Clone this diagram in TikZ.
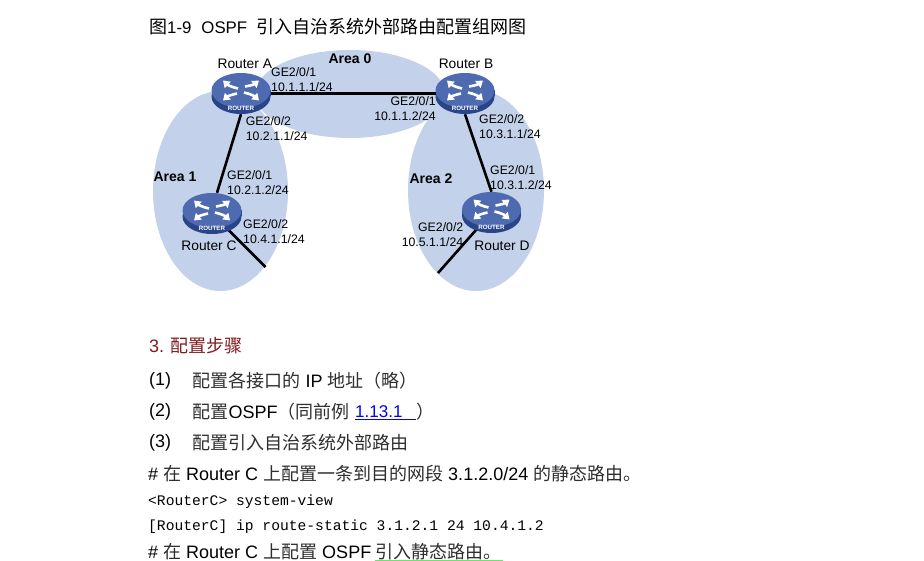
\documentclass[tikz,border=0pt]{standalone}
\usepackage{fontspec}
\setmainfont{Liberation Sans}
\setmonofont{Liberation Mono}
\newfontfamily\cjk{Noto Sans CJK SC}
\usetikzlibrary{arrows.meta}
\definecolor{areablue}{HTML}{C3D1EA}
\definecolor{routertop}{HTML}{4E6AB0}
\definecolor{routerside}{HTML}{2A4489}
\definecolor{headred}{HTML}{7F1A1F}
\definecolor{markgreen}{HTML}{66E866}
\newcommand{\zh}[1]{{\cjk\color{black!82}#1}}
\tikzset{
  routerbox/.style={minimum width=60pt,minimum height=41pt,inner sep=0pt},
  portlabel/.style={font=\fontsize{12.3}{14.8}\selectfont,inner sep=0pt},
  namelabel/.style={font=\fontsize{13.8}{15}\selectfont,inner sep=0pt},
  arealabel/.style={font=\fontsize{14}{15}\selectfont\bfseries,inner sep=0pt},
  bodyline/.style={anchor=west,inner sep=0pt,font=\fontsize{18}{20}\selectfont},
  lastline/.style={bodyline,text height=13pt,text depth=2pt},
  codeline/.style={anchor=west,inner sep=0pt,font=\fontsize{14.65}{18}\ttfamily},
  routerarrow/.style={white,line width=2.6pt,-{Triangle[length=6.5pt,width=8.5pt]}},
  routericon/.pic={
    \fill[routerside] (-29.5,-3) rectangle (29.5,3);
    \fill[routerside] (0,3) ellipse (29.5 and 17.5);
    \fill[routertop] (0,-3) ellipse (29.5 and 17.5);
    \draw[routerarrow] (-3,-5) to[bend left=15] (-18,-13);
    \draw[routerarrow] (4,-7) to[bend right=15] (18,-13);
    \draw[routerarrow] (-4,0) to[bend right=15] (-18,7);
    \draw[routerarrow] (3,-1) to[bend left=15] (18,7);
    \node[white,inner sep=0pt,font=\fontsize{6.2}{6}\selectfont\bfseries] at (0,14.5) {ROUTER};
  }
}
\begin{document}
\begin{tikzpicture}[x=1pt,y=-1pt]
\useasboundingbox (0,0) rectangle (924,561);
% Title
\node[anchor=west,inner sep=0pt,font=\fontsize{16.8}{18}\selectfont] (title) at (149,27) {{\cjk\fontsize{18}{20}\selectfont 图}1-9\hspace{10pt}OSPF\hspace{9.5pt}{\cjk\fontsize{18}{20}\selectfont 引入自治系统外部路由配置组网图}};
% Areas
\fill[areablue] (350,94) ellipse (95 and 44);
\fill[areablue] (220.5,191) ellipse (67.5 and 100);
\fill[areablue] (476,190.5) ellipse (68 and 100.5);
% Routers
\node[routerbox] (ra) at (241,93.5) {};
\node[routerbox] (rb) at (465,93.5) {};
\node[routerbox] (rc) at (212,213.5) {};
\node[routerbox] (rd) at (491.5,212.5) {};
\coordinate (cend) at (265.5,267);
\coordinate (dend) at (438,273);
\draw[line width=2.6pt] (ra.center)--(rb.center);
\draw[line width=2.6pt] (ra.south)--([xshift=5pt]rc.north);
\draw[line width=2.6pt] (rb.south)--(rd.north);
\draw[line width=2.6pt] (rc.center)--(cend);
\draw[line width=2.6pt] (rd.center)--(dend);
\foreach \r in {ra,rb,rc,rd} \pic at (\r) {routericon};
\node[namelabel] (namea) at (244.8,63.5) {Router A};
\node[namelabel] (nameb) at (466,64) {Router B};
\node[namelabel] (namec) at (209,245.5) {Router C};
\node[namelabel] (named) at (502,245.5) {Router D};
\node[arealabel] (area0) at (350,59) {Area 0};
\node[arealabel] (area1) at (175,177) {Area 1};
\node[arealabel] (area2) at (431,179) {Area 2};
% Ports
\node[portlabel,anchor=west,align=left] (porta1) at (271,80) {GE2/0/1\\10.1.1.1/24};
\node[portlabel,anchor=west,align=left] (porta2) at (245.7,129) {GE2/0/2\\10.2.1.1/24};
\node[portlabel,anchor=west,align=left] (portc1) at (227,183) {GE2/0/1\\10.2.1.2/24};
\node[portlabel,anchor=west,align=left] (portc2) at (243,232) {GE2/0/2\\10.4.1.1/24};
\node[portlabel,anchor=east,align=right] (portb1) at (436,109) {GE2/0/1\\10.1.1.2/24};
\node[portlabel,anchor=west,align=left] (portb2) at (479,127) {GE2/0/2\\10.3.1.1/24};
\node[portlabel,anchor=west,align=left] (portd1) at (490,178) {GE2/0/1\\10.3.1.2/24};
\node[portlabel,anchor=east,align=right] (portd2) at (463.5,234.5) {GE2/0/2\\10.5.1.1/24};
% Steps
\node[bodyline,headred] (head) at (149,345.5) {3. {\cjk 配置步骤}};
\node[bodyline] (n1) at (149,380.5) {(1)};
\node[bodyline] (s1) at (192.5,380.5) {\zh{配置各接口的} IP \zh{地址（略）}};
\node[bodyline] (n2) at (149,411.5) {(2)};
\node[bodyline] (s2) at (192.5,411.5) {\zh{配置}OSPF\zh{（同前例}};
\node[bodyline,blue,text width=61pt,font=\fontsize{17}{20}\selectfont] (lnk) at (355,411.5) {1.13.1};
\node[bodyline] (s2end) at (416,411.5) {\zh{）}};
\draw[blue,line width=1.5pt] ([yshift=-2pt]lnk.south west)--([yshift=-2pt]lnk.south east);
\node[bodyline] (n3) at (149,442.5) {(3)};
\node[bodyline] (s3) at (192.5,442.5) {\zh{配置引入自治系统外部路由}};
% Commands
\node[bodyline] (c1) at (148,473.5) {\# \zh{在} Router C \zh{上配置一条到目的网段} 3.1.2.0/24 \zh{的静态路由。}};
\node[codeline] (c2) at (148,501.5) {<RouterC> system-view};
\node[codeline] (c3) at (148,526.5) {[RouterC] ip route-static 3.1.2.1 24 10.4.1.2};
\node[lastline] (c4) at (148,552.5) {\# \zh{在} Router C \zh{上配置} OSPF};
\node[lastline,text width=128pt] (tail) at (375,552.5) {\zh{引入静态路由。}};
\draw[markgreen,line width=1.2pt] (tail.south west)--(tail.south east);
\end{tikzpicture}
\end{document}
